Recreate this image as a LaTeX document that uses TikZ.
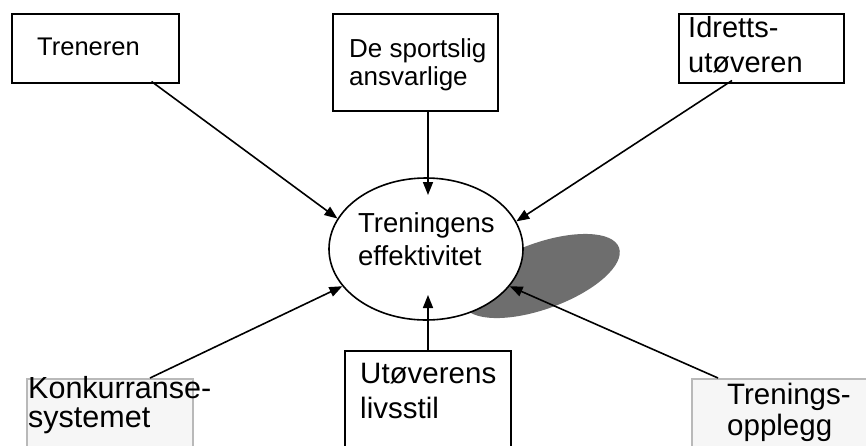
\documentclass[tikz,border=0pt]{standalone}
\usepackage{fontspec}
\setmainfont{Liberation Sans}
\usetikzlibrary{shapes.geometric,arrows.meta}
\begin{document}
\begin{tikzpicture}[x=1pt,y=-1pt,
  box/.style={draw=black,line width=1.5pt,fill=white,anchor=north west,inner sep=0,minimum width=#1},
  softbox/.style={draw=gray!55,line width=1.5pt,fill=gray!7,anchor=north west,inner sep=0,minimum width=#1},
  lbl/.style={anchor=base west,inner sep=0,font=\fontsize{#1}{#1}\selectfont},
  conn/.style={line width=1.6pt,-{Triangle[length=13pt,width=10pt]}}]
\clip (0,0) rectangle (866,445);
\fill[white] (0,0) rectangle (866,445);
% shadow
\fill[black!57,rotate around={20:(541,276)}] (541,276) ellipse [x radius=83, y radius=33];
% central ellipse
\node[draw,ellipse,line width=1.6pt,fill=white,minimum width=194pt,minimum height=142pt,inner sep=0] (eff) at (426,249) {};
% boxes
\node[box=167pt,minimum height=69pt] (tre) at (11,13) {};
\node[box=165pt,minimum height=97pt] (spo) at (332,13) {};
\node[box=165pt,minimum height=69pt] (ido) at (678,13) {};
\node[softbox=166pt,minimum height=100pt] (kon) at (26,378) {};
\node[box=166pt,minimum height=120pt] (utl) at (344,350) {};
\node[softbox=200pt,minimum height=100pt] (tro) at (691,378) {};
% texts
\node[lbl=25.5] (t1) at (37,55) {Treneren};
\node[lbl=26] (t2a) at (349,57) {De sportslig};
\node[lbl=26] (t2b) at (349,85) {ansvarlige};
\node[lbl=29] (t3a) at (688,37) {Idretts-};
\node[lbl=29] (t3b) at (688,72) {utøveren};
\node[lbl=27.5] (tea) at (358,232) {Treningens};
\node[lbl=27.5] (teb) at (358,265) {effektivitet};
\node[lbl=30.5] (t4a) at (28,398) {Konkurranse-};
\node[lbl=30.5] (t4b) at (28,427) {systemet};
\node[lbl=29.5] (t5a) at (360,383) {Utøverens};
\node[lbl=29.5] (t5b) at (360,418) {livsstil};
\node[lbl=29.5] (t6a) at (727,404) {Trenings-};
\node[lbl=29.5] (t6b) at (727,435) {opplegg};
% inner arrow ends
\coordinate (topin) at (428,195);
\coordinate (botin) at (428,295);
% connectors
\draw[conn] ([xshift=-28pt,yshift=2pt]tre.south east) -- (eff.161);
\draw[conn] ([xshift=96pt]spo.south west) -- (topin);
\draw[conn] ([xshift=54pt,yshift=3pt]ido.south west) -- (eff.17);
\draw[conn] ([xshift=124pt]kon.north west) -- (eff.204);
\draw[conn] ([xshift=84pt]utl.north west) -- (botin);
\draw[conn] ([xshift=27pt]tro.north west) -- (eff.336);
\end{tikzpicture}
\end{document}
